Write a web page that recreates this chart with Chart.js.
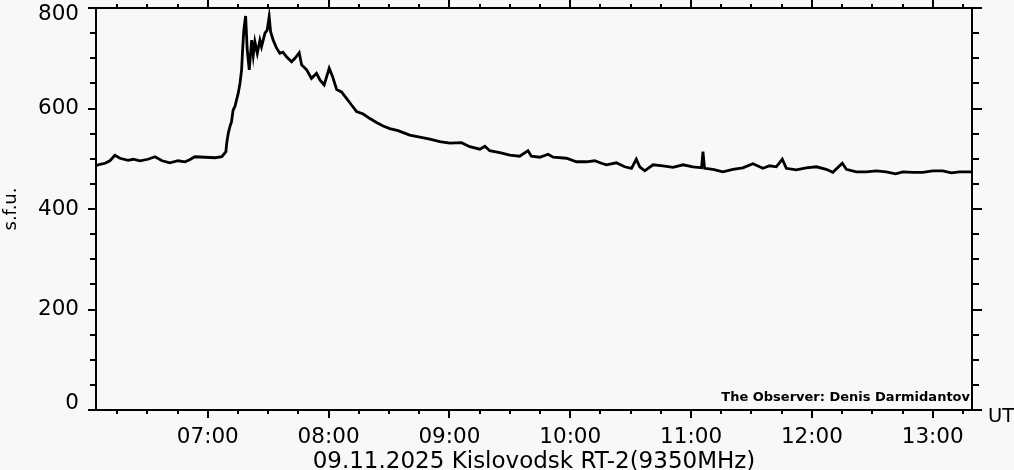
<!DOCTYPE html>
<html>
<head>
<meta charset="utf-8">
<script src="https://cdn.jsdelivr.net/npm/chart.js@4/dist/chart.umd.min.js"></script>
<style>
html,body{margin:0;padding:0;background:#f8f8f8;}
#wrap{width:1014px;height:470px;position:relative;}
canvas{display:block;}
</style>
</head>
<body>
<div id="wrap"><canvas id="c" width="1014" height="470"></canvas></div>
<script>
// ---- data (time in minutes after 00:00 UT, flux in s.f.u.) ----
const timeMinutes = [
  364.5, 366.5, 369.0, 371.4, 373.9, 376.4, 380.4, 383.0, 386.3, 390.3,
  393.8, 397.3, 401.2, 405.2, 408.7, 411.0, 413.6, 418.6, 423.6, 427.0,
  429.0, 429.4, 430.2, 431.0, 431.8, 432.6, 433.5, 434.3, 435.1, 436.0,
  436.8, 437.3, 437.9, 438.8, 439.6, 440.6, 441.8, 442.6, 443.4, 444.6,
  445.9, 446.7, 448.4, 449.5, 450.5, 451.2, 452.5, 454.2, 455.8, 457.3,
  459.1, 461.6, 463.3, 465.4, 466.6, 469.1, 471.5, 474.0, 475.7, 477.8,
  480.3, 482.0, 484.0, 486.4, 488.9, 491.4, 493.9, 497.2, 500.5, 503.8,
  507.1, 510.4, 514.5, 520.3, 525.3, 530.3, 535.2, 540.2, 546.0, 550.1,
  555.1, 557.6, 560.0, 565.0, 570.0, 574.9, 579.0, 580.7, 584.9, 589.0,
  591.5, 598.1, 603.1, 608.0, 612.1, 615.5, 618.0, 622.9, 627.0, 630.4,
  632.8, 634.5, 637.0, 641.1, 646.0, 651.0, 656.0, 660.9, 665.2, 665.9,
  666.7, 670.9, 675.8, 680.8, 685.7, 690.7, 695.7, 699.0, 702.3, 705.3,
  707.3, 712.2, 717.2, 722.2, 727.1, 730.4, 735.1, 737.1, 742.0, 747.0,
  752.0, 756.9, 761.5, 765.2, 770.1, 775.1, 780.0, 785.0, 789.2, 793.3,
  799.5
];
const fluxSfu = [
  486, 489, 491, 496, 507, 501, 497, 499, 496, 499,
  504, 496, 492, 496, 494, 498, 504, 503, 502, 504,
  514, 531, 551, 564, 574, 597, 604, 617, 630, 650,
  677, 716, 756, 784, 716, 677, 736, 706, 733, 710,
  736, 723, 750, 756, 783, 753, 736, 720, 710, 712,
  703, 693, 700, 711, 687, 677, 660, 670, 657, 647,
  680, 663, 638, 633, 620, 607, 594, 589, 580, 572,
  565, 560, 556, 547, 543, 539, 534, 531, 532, 524,
  519, 525, 516, 512, 507, 505, 516, 505, 503, 509,
  503, 501, 494, 494, 496, 491, 488, 492, 484, 481,
  499, 484, 476, 488, 486, 483, 488, 484, 482, 514,
  481, 479, 474, 479, 482, 490, 481, 486, 484, 499,
  481, 478, 482, 484, 479, 473, 491, 479, 474, 474,
  476, 474, 470, 474, 473, 473, 476, 476, 472, 474,
  474
];
const timeMin = 364.5;
const timeMax = 799.5;
const hourTicks = [420, 480, 540, 600, 660, 720, 780];
const quarterTicks = [375, 390, 405, 435, 450, 465, 495, 510, 525, 555, 570, 585,
                      615, 630, 645, 675, 690, 705, 735, 750, 765, 795];
const fluxMajorTicks = [0, 200, 400, 600, 800];
const fluxMinorTicks = [50, 100, 150, 250, 300, 350, 450, 500, 550, 650, 700, 750];
const xTitleText = '09.11.2025 Kislovodsk RT-2(9350MHz)';
const yTitleText = 's.f.u.';
const unitText = 'UT';
const observerText = 'The Observer: Denis Darmidantov';

// ---- helpers ----
const pad2 = n => String(n).padStart(2, '0');
const fmtTime = v => pad2(Math.floor(v / 60)) + ':' + pad2(Math.round(v % 60));
const FONT = 'DejaVu Sans';
const points = timeMinutes.map((t, i) => ({x: t, y: fluxSfu[i]}));

const decor = {
  id: 'decor',
  beforeDraw(chart) {
    const ctx = chart.ctx;
    ctx.save();
    ctx.fillStyle = '#f8f8f8';
    ctx.fillRect(0, 0, chart.width, chart.height);
    ctx.restore();
  },
  afterDraw(chart) {
    const {ctx, chartArea: a} = chart;
    const x = chart.scales.x, y = chart.scales.y;
    ctx.save();
    ctx.strokeStyle = '#000';
    ctx.lineWidth = 2;
    ctx.beginPath();
    quarterTicks.forEach(v => {
      const px = Math.round(x.getPixelForValue(v));
      ctx.moveTo(px, a.bottom); ctx.lineTo(px, a.bottom + 4);
      ctx.moveTo(px, a.top); ctx.lineTo(px, a.top - 4);
    });
    fluxMinorTicks.forEach(v => {
      const py = Math.round(y.getPixelForValue(v));
      ctx.moveTo(a.left, py); ctx.lineTo(a.left - 6, py);
      ctx.moveTo(a.right, py); ctx.lineTo(a.right + 7, py);
    });
    ctx.stroke();
    ctx.fillStyle = '#000';
    ctx.font = '19.5px "' + FONT + '"';
    ctx.textAlign = 'left';
    ctx.textBaseline = 'middle';
    ctx.fillText(unitText, a.right + 16, a.bottom + 7);
    ctx.font = 'bold 13px "' + FONT + '"';
    ctx.textAlign = 'right';
    ctx.textBaseline = 'alphabetic';
    ctx.fillText(observerText, a.right - 2, a.bottom - 9);
    ctx.restore();
  }
};

const axisGrid = len => ({drawOnChartArea: false, drawTicks: true, tickLength: len, color: '#000', lineWidth: 2});
const axisBorder = {display: true, color: '#000', width: 2};

new Chart(document.getElementById('c'), {
  type: 'line',
  data: {
    datasets: [{
      data: points,
      borderColor: '#000',
      borderWidth: 2.8,
      pointRadius: 0,
      tension: 0,
      fill: false
    }]
  },
  options: {
    responsive: false,
    animation: false,
    devicePixelRatio: 1,
    layout: {padding: 0},
    plugins: {legend: {display: false}, tooltip: {enabled: false}, title: {display: false}},
    scales: {
      x: {
        type: 'linear', position: 'bottom', min: timeMin, max: timeMax,
        afterBuildTicks: s => { s.ticks = hourTicks.map(v => ({value: v})); },
        ticks: {callback: v => fmtTime(v), color: '#000', font: {family: FONT, size: 21.5}, padding: 7, maxRotation: 0, autoSkip: false},
        grid: axisGrid(8), border: axisBorder,
        title: {display: true, text: xTitleText, color: '#000', font: {family: FONT, size: 23, lineHeight: '16px'}, padding: 0},
        afterFit: s => { s.height = 60; s.paddingLeft = 0; s.paddingRight = 0; }
      },
      x2: {
        type: 'linear', position: 'top', min: timeMin, max: timeMax,
        afterBuildTicks: s => { s.ticks = hourTicks.map(v => ({value: v})); },
        ticks: {display: false},
        grid: axisGrid(8), border: axisBorder,
        afterFit: s => { s.height = 8; s.paddingLeft = 0; s.paddingRight = 0; }
      },
      y: {
        type: 'linear', position: 'left', min: 0, max: 800,
        afterBuildTicks: s => { s.ticks = fluxMajorTicks.map(v => ({value: v})); },
        ticks: {
          callback: v => v === 800 ? ['', String(v)] : (v === 0 ? [String(v), ''] : String(v)),
          color: '#000', font: {family: FONT, size: 21.5, lineHeight: '13px'}, padding: 9
        },
        grid: axisGrid(8), border: axisBorder,
        title: {display: true, text: yTitleText, color: '#000', font: {family: FONT, size: 18}, padding: {top: 1, bottom: 0}},
        afterFit: s => { s.width = 96; s.paddingTop = 0; s.paddingBottom = 0; }
      },
      y2: {
        type: 'linear', position: 'right', min: 0, max: 800,
        afterBuildTicks: s => { s.ticks = fluxMajorTicks.map(v => ({value: v})); },
        ticks: {display: false},
        grid: axisGrid(10), border: axisBorder,
        afterFit: s => { s.width = 42; s.paddingTop = 0; s.paddingBottom = 0; }
      }
    }
  },
  plugins: [decor]
});
</script>
</body>
</html>
